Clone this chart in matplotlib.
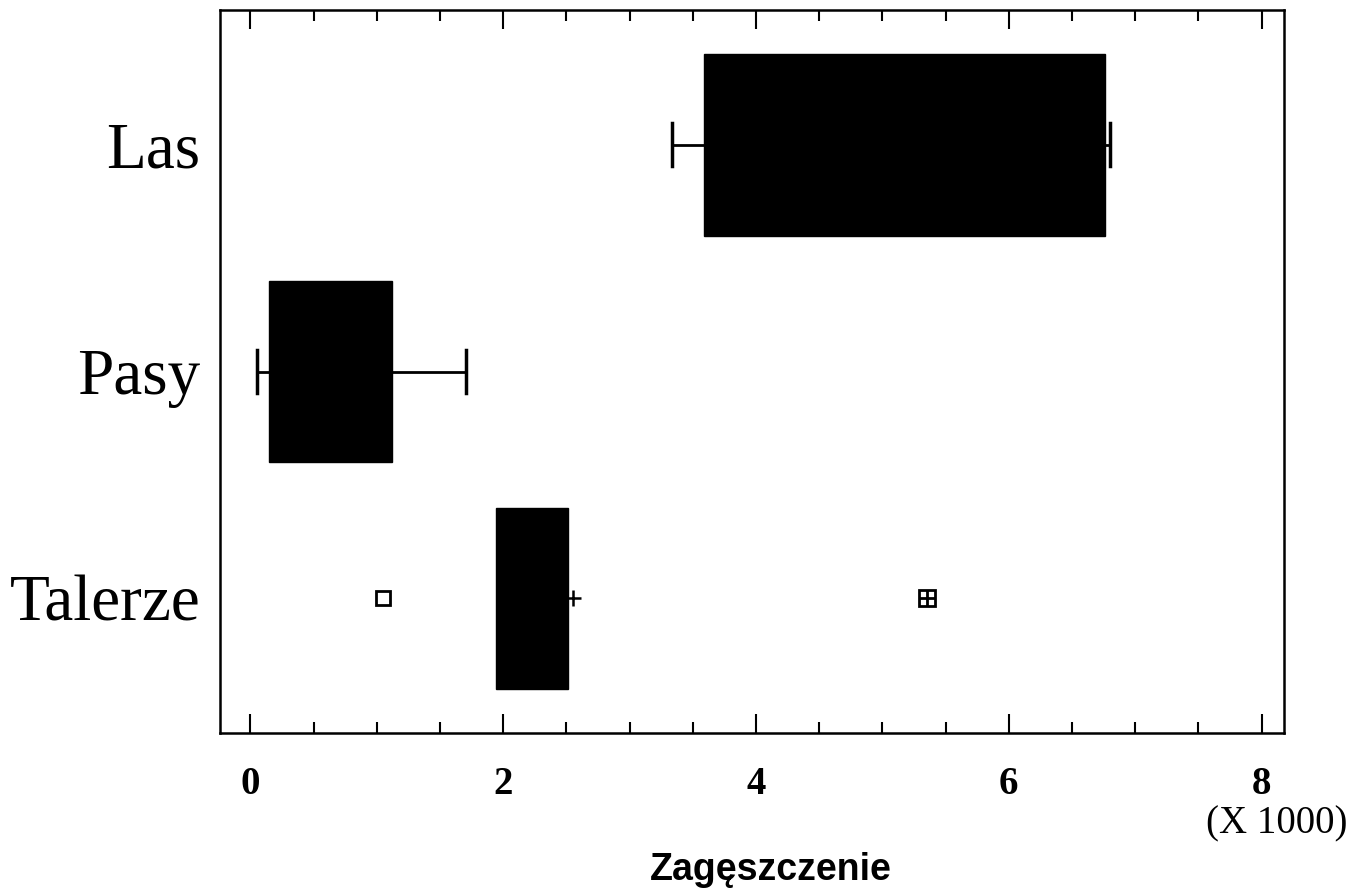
import numpy as np
import matplotlib
matplotlib.use('Agg')
import matplotlib.pyplot as plt
from matplotlib.ticker import MultipleLocator

# dane (w tysiącach)
kategorie = ['Talerze', 'Pasy', 'Las']
wasy_min = [1.94, 0.055, 3.34]
kwartyl1 = [1.94, 0.15, 3.59]
mediana = [2.20, 0.60, 5.20]
kwartyl3 = [2.51, 1.12, 6.76]
wasy_max = [2.51, 1.71, 6.80]

# punkty dodatkowe dla Talerze
plus_x = [2.55]
odstajace_x = [1.05]
dalekie_x = [5.35]

serif = 'Liberation Serif'
sans = 'Liberation Sans'

fig = plt.figure(figsize=(13.69, 8.96), dpi=100)
ax = fig.add_axes([0.1607, 0.1819, 0.7774, 0.8069])

stats = []
for i, k in enumerate(kategorie):
    stats.append(dict(label=k, whislo=wasy_min[i], q1=kwartyl1[i], med=mediana[i],
                      q3=kwartyl3[i], whishi=wasy_max[i], fliers=[]))

poz = np.arange(1, len(kategorie) + 1)
bp = ax.bxp(stats, positions=poz, widths=0.8, orientation='horizontal',
            patch_artist=True, showfliers=False, capwidths=0.19,
            boxprops=dict(facecolor='black', edgecolor='black', linewidth=1),
            medianprops=dict(color='black', linewidth=1),
            whiskerprops=dict(color='black', linewidth=2),
            capprops=dict(color='black', linewidth=2.5))
# Talerze bez wąsów
bp['caps'][0].set_visible(False)
bp['caps'][1].set_visible(False)
for b in bp['boxes']:
    b.set_zorder(3)

ax.plot(plus_x, [poz[0]] * len(plus_x), marker='+', color='black', ms=11, mew=1.8, ls='none')
ax.plot(odstajace_x, [poz[0]] * len(odstajace_x), marker='s', mfc='white', mec='black', ms=10, mew=2, ls='none')
ax.plot(dalekie_x, [poz[0]] * len(dalekie_x), marker='s', mfc='white', mec='black', ms=11, mew=2, ls='none')
ax.plot(dalekie_x, [poz[0]] * len(dalekie_x), marker='+', color='black', ms=11, mew=2, ls='none')

ax.set_xlim(-0.24, 8.18)
ax.set_ylim(0.405, 3.595)

ax.xaxis.set_major_locator(MultipleLocator(2))
ax.xaxis.set_minor_locator(MultipleLocator(0.5))
ax.set_xticks([0, 2, 4, 6, 8])
ax.set_xticklabels(['0', '2', '4', '6', '8'], fontfamily=serif, fontweight='bold', fontsize=28)
ax.set_yticks(poz)
ax.set_yticklabels(kategorie, fontfamily=serif, fontsize=47)

ax.tick_params(axis='x', which='major', direction='in', top=True, bottom=True,
               length=14, width=1.5, pad=24)
ax.tick_params(axis='x', which='minor', direction='in', top=True, bottom=True,
               length=8, width=1.5)
ax.tick_params(axis='y', length=0, pad=14)

for s in ax.spines.values():
    s.set_linewidth(1.8)

fig.text(1277 / 1369, 1 - 824 / 896, '(X 1000)', fontfamily=serif, fontsize=28,
         ha='center', va='center')
fig.text(771 / 1369, 1 - 870 / 896, 'Zagęszczenie', fontfamily=sans, fontweight='bold',
         fontsize=27, ha='center', va='center')

fig.savefig('out.png', dpi=100)
